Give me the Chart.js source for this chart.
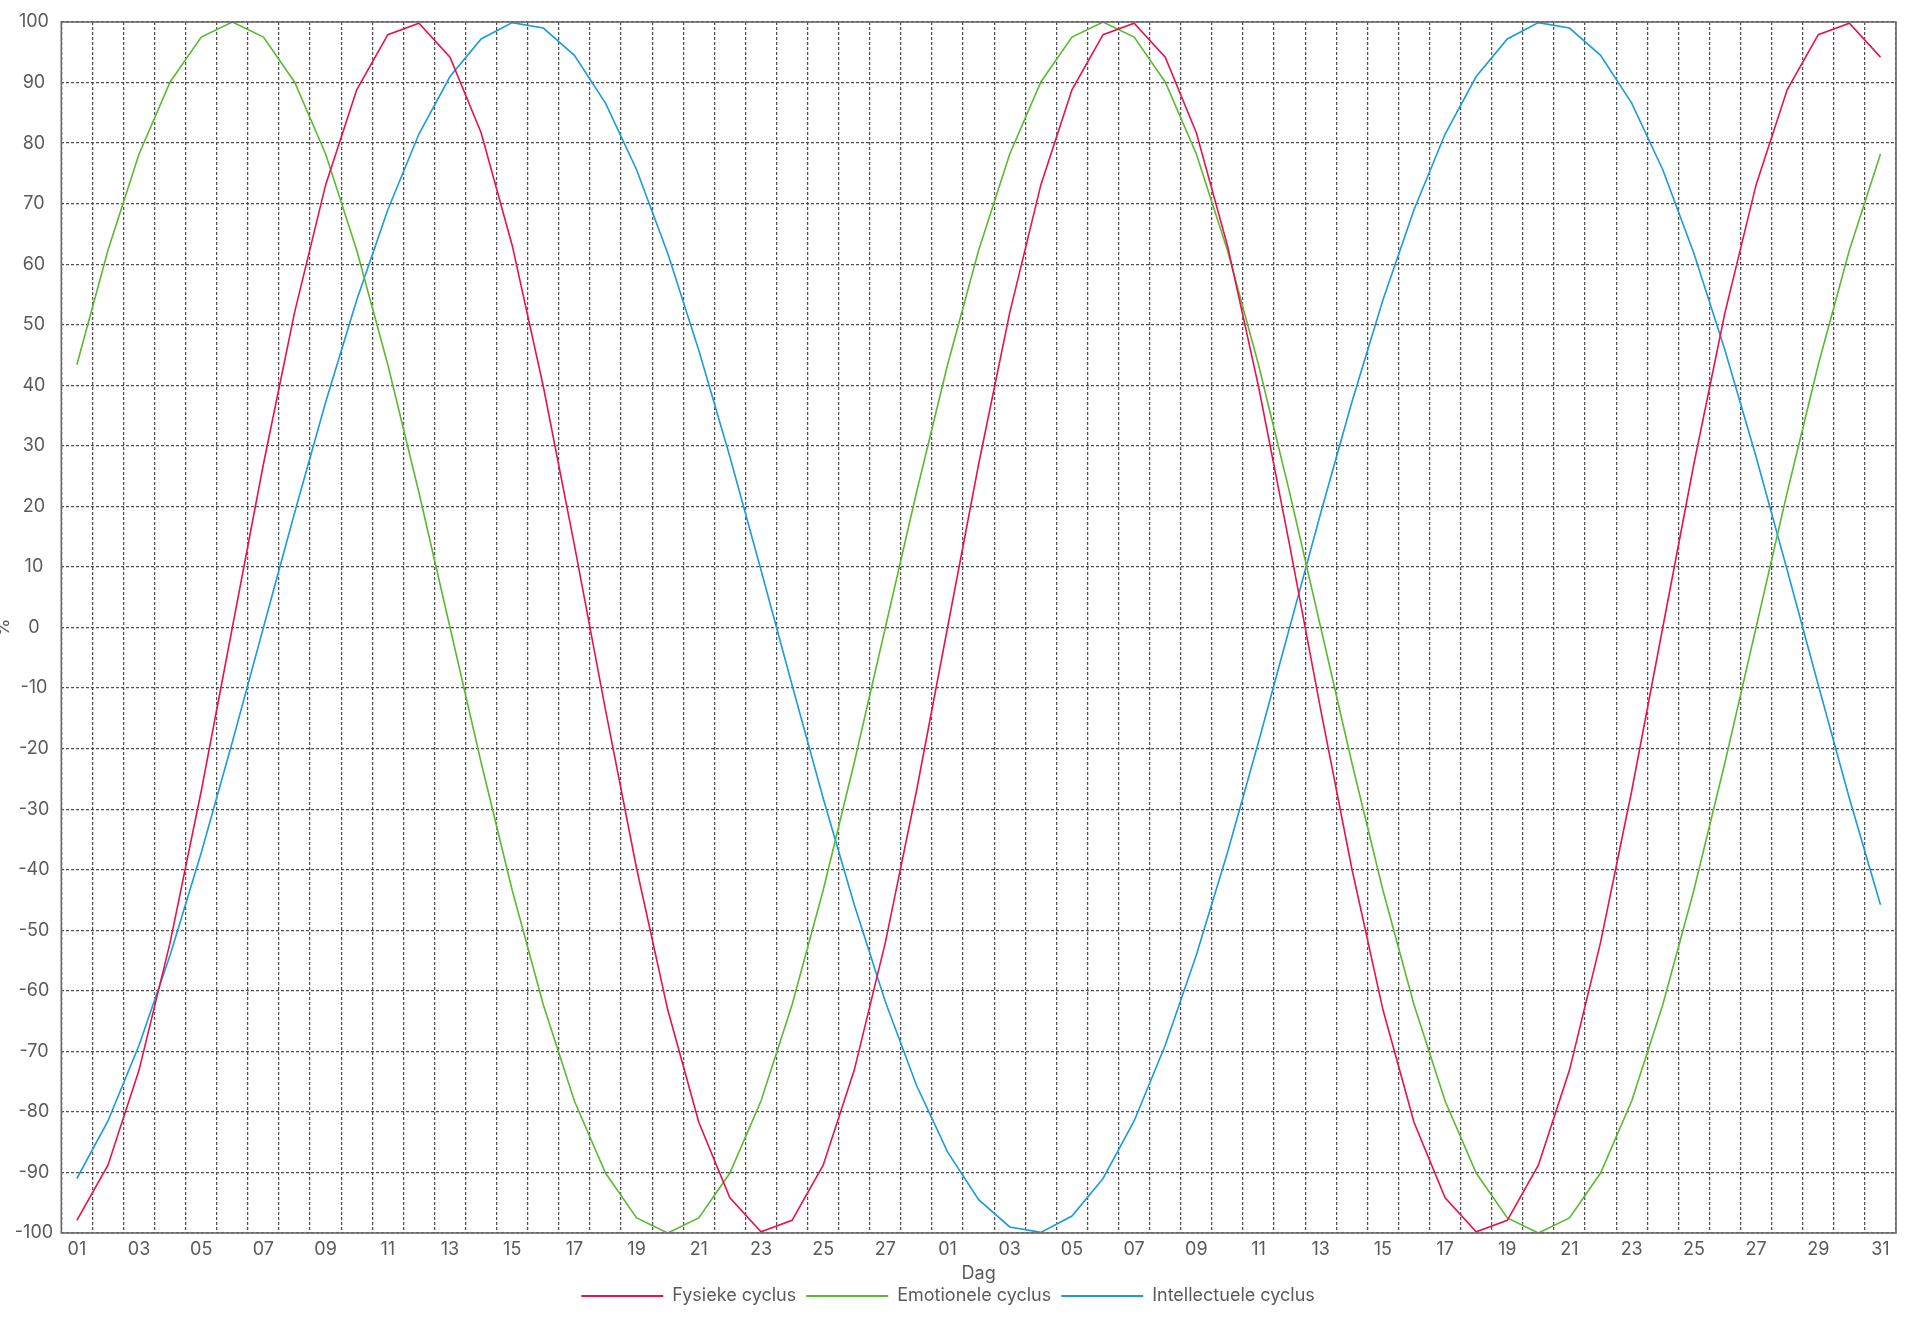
<!DOCTYPE html>
<html>
<head>
<meta charset="utf-8">
<script src="https://cdn.jsdelivr.net/npm/chart.js@4/dist/chart.umd.min.js"></script>
<style>
  html, body { margin: 0; padding: 0; background: #ffffff; }
  #wrap { width: 1920px; height: 1317px; position: relative; }
</style>
</head>
<body>
<div id="wrap"><canvas id="c"></canvas></div>
<script>
// Day labels: February (28 days) followed by March (31 days)
const dayLabels = [
  '01','02','03','04','05','06','07','08','09','10','11','12','13','14','15','16','17','18','19','20','21','22','23','24','25','26','27','28',
  '01','02','03','04','05','06','07','08','09','10','11','12','13','14','15','16','17','18','19','20','21','22','23','24','25','26','27','28','29','30','31'
];

// Fysieke cyclus (%)
const fysiek = [
  -97.9, -88.8, -73.1, -52.0, -27.0, 0, 27.0, 52.0, 73.1, 88.8, 97.9, 99.8, 94.2, 81.7, 63.1, 39.8, 13.6, -13.6, -39.8, -63.1,
  -81.7, -94.2, -99.8, -97.9, -88.8, -73.1, -52.0, -27.0, 0, 27.0, 52.0, 73.1, 88.8, 97.9, 99.8, 94.2, 81.7, 63.1, 39.8, 13.6,
  -13.6, -39.8, -63.1, -81.7, -94.2, -99.8, -97.9, -88.8, -73.1, -52.0, -27.0, 0, 27.0, 52.0, 73.1, 88.8, 97.9, 99.8, 94.2
];

// Emotionele cyclus (%)
const emotioneel = [
  43.4, 62.3, 78.2, 90.1, 97.5, 100, 97.5, 90.1, 78.2, 62.3, 43.4, 22.3, 0, -22.3, -43.4, -62.3, -78.2, -90.1, -97.5, -100,
  -97.5, -90.1, -78.2, -62.3, -43.4, -22.3, 0, 22.3, 43.4, 62.3, 78.2, 90.1, 97.5, 100, 97.5, 90.1, 78.2, 62.3, 43.4, 22.3,
  0, -22.3, -43.4, -62.3, -78.2, -90.1, -97.5, -100, -97.5, -90.1, -78.2, -62.3, -43.4, -22.3, 0, 22.3, 43.4, 62.3, 78.2
];

// Intellectuele cyclus (%)
const intellectueel = [
  -91.0, -81.5, -69.0, -54.1, -37.2, -18.9, 0, 18.9, 37.2, 54.1, 69.0, 81.5, 91.0, 97.2, 99.9, 99.0, 94.5, 86.6, 75.6, 61.8,
  45.8, 28.2, 9.5, -9.5, -28.2, -45.8, -61.8, -75.6, -86.6, -94.5, -99.0, -99.9, -97.2, -91.0, -81.5, -69.0, -54.1, -37.2, -18.9, 0,
  18.9, 37.2, 54.1, 69.0, 81.5, 91.0, 97.2, 99.9, 99.0, 94.5, 86.6, 75.6, 61.8, 45.8, 28.2, 9.5, -9.5, -28.2, -45.8
];

const seriesNames = ['Fysieke cyclus', 'Emotionele cyclus', 'Intellectuele cyclus'];
const seriesColors = ['#e8124c', '#5cb932', '#1a9bdc'];
const xTitle = 'Dag';
const yTitle = '%';

const FONT = 'Inter, "Open Sans", "DejaVu Sans", sans-serif';
const FS = 18;
const TEXT = '#5a5a5a';

const frame = {
  id: 'frame',
  afterDraw(chart) {
    const { ctx, chartArea: a } = chart;
    ctx.save();
    ctx.strokeStyle = '#6a6a6a';
    ctx.lineWidth = 1.6;
    ctx.setLineDash([]);
    ctx.strokeRect(a.left, a.top, a.right - a.left, a.bottom - a.top);
    ctx.restore();
  }
};

const mk = (i, data) => ({
  label: seriesNames[i],
  data: data,
  borderColor: seriesColors[i],
  backgroundColor: seriesColors[i],
  borderWidth: 1.6,
  pointRadius: 0,
  pointHoverRadius: 0,
  tension: 0,
  fill: false
});

new Chart(document.getElementById('c'), {
  type: 'line',
  data: {
    labels: dayLabels,
    datasets: [mk(0, fysiek), mk(1, emotioneel), mk(2, intellectueel)]
  },
  plugins: [frame],
  options: {
    responsive: true,
    maintainAspectRatio: false,
    animation: false,
    layout: { padding: { top: 22, right: 24, left: 0, bottom: 2 } },
    plugins: {
      legend: {
        position: 'bottom',
        labels: {
          boxWidth: 82,
          boxHeight: 2,
          padding: 10,
          color: TEXT,
          font: { family: FONT, size: FS },
          generateLabels(chart) {
            return chart.data.datasets.map((d, i) => ({
              text: d.label,
              fillStyle: d.borderColor,
              strokeStyle: d.borderColor,
              lineWidth: 0,
              hidden: false,
              datasetIndex: i,
              fontColor: TEXT
            }));
          }
        }
      },
      tooltip: { enabled: false }
    },
    scales: {
      x: {
        type: 'category',
        offset: true,
        grid: {
          offset: true,
          drawTicks: false,
          color: '#505050',
          lineWidth: 1.25
        },
        border: { display: false, dash: [3, 2] },
        ticks: {
          autoSkip: false,
          maxRotation: 0,
          padding: 6,
          color: TEXT,
          font: { family: FONT, size: FS },
          callback(val, idx) { return idx % 2 === 0 ? this.getLabelForValue(val) : ''; }
        },
        title: {
          display: true,
          text: xTitle,
          color: TEXT,
          font: { family: FONT, size: FS },
          padding: { top: -3.4, bottom: -7.8 }
        }
      },
      y: {
        min: -100,
        max: 100,
        grid: {
          drawTicks: false,
          color: '#505050',
          lineWidth: 1.25
        },
        border: { display: false, dash: [3, 2] },
        ticks: {
          stepSize: 10,
          padding: 8.2,
          crossAlign: 'center',
          color: TEXT,
          font: { family: FONT, size: FS }
        },
        title: {
          display: true,
          text: yTitle,
          color: TEXT,
          font: { family: FONT, size: FS },
          padding: { top: -7, bottom: -8 }
        }
      }
    }
  }
});
</script>
</body>
</html>
